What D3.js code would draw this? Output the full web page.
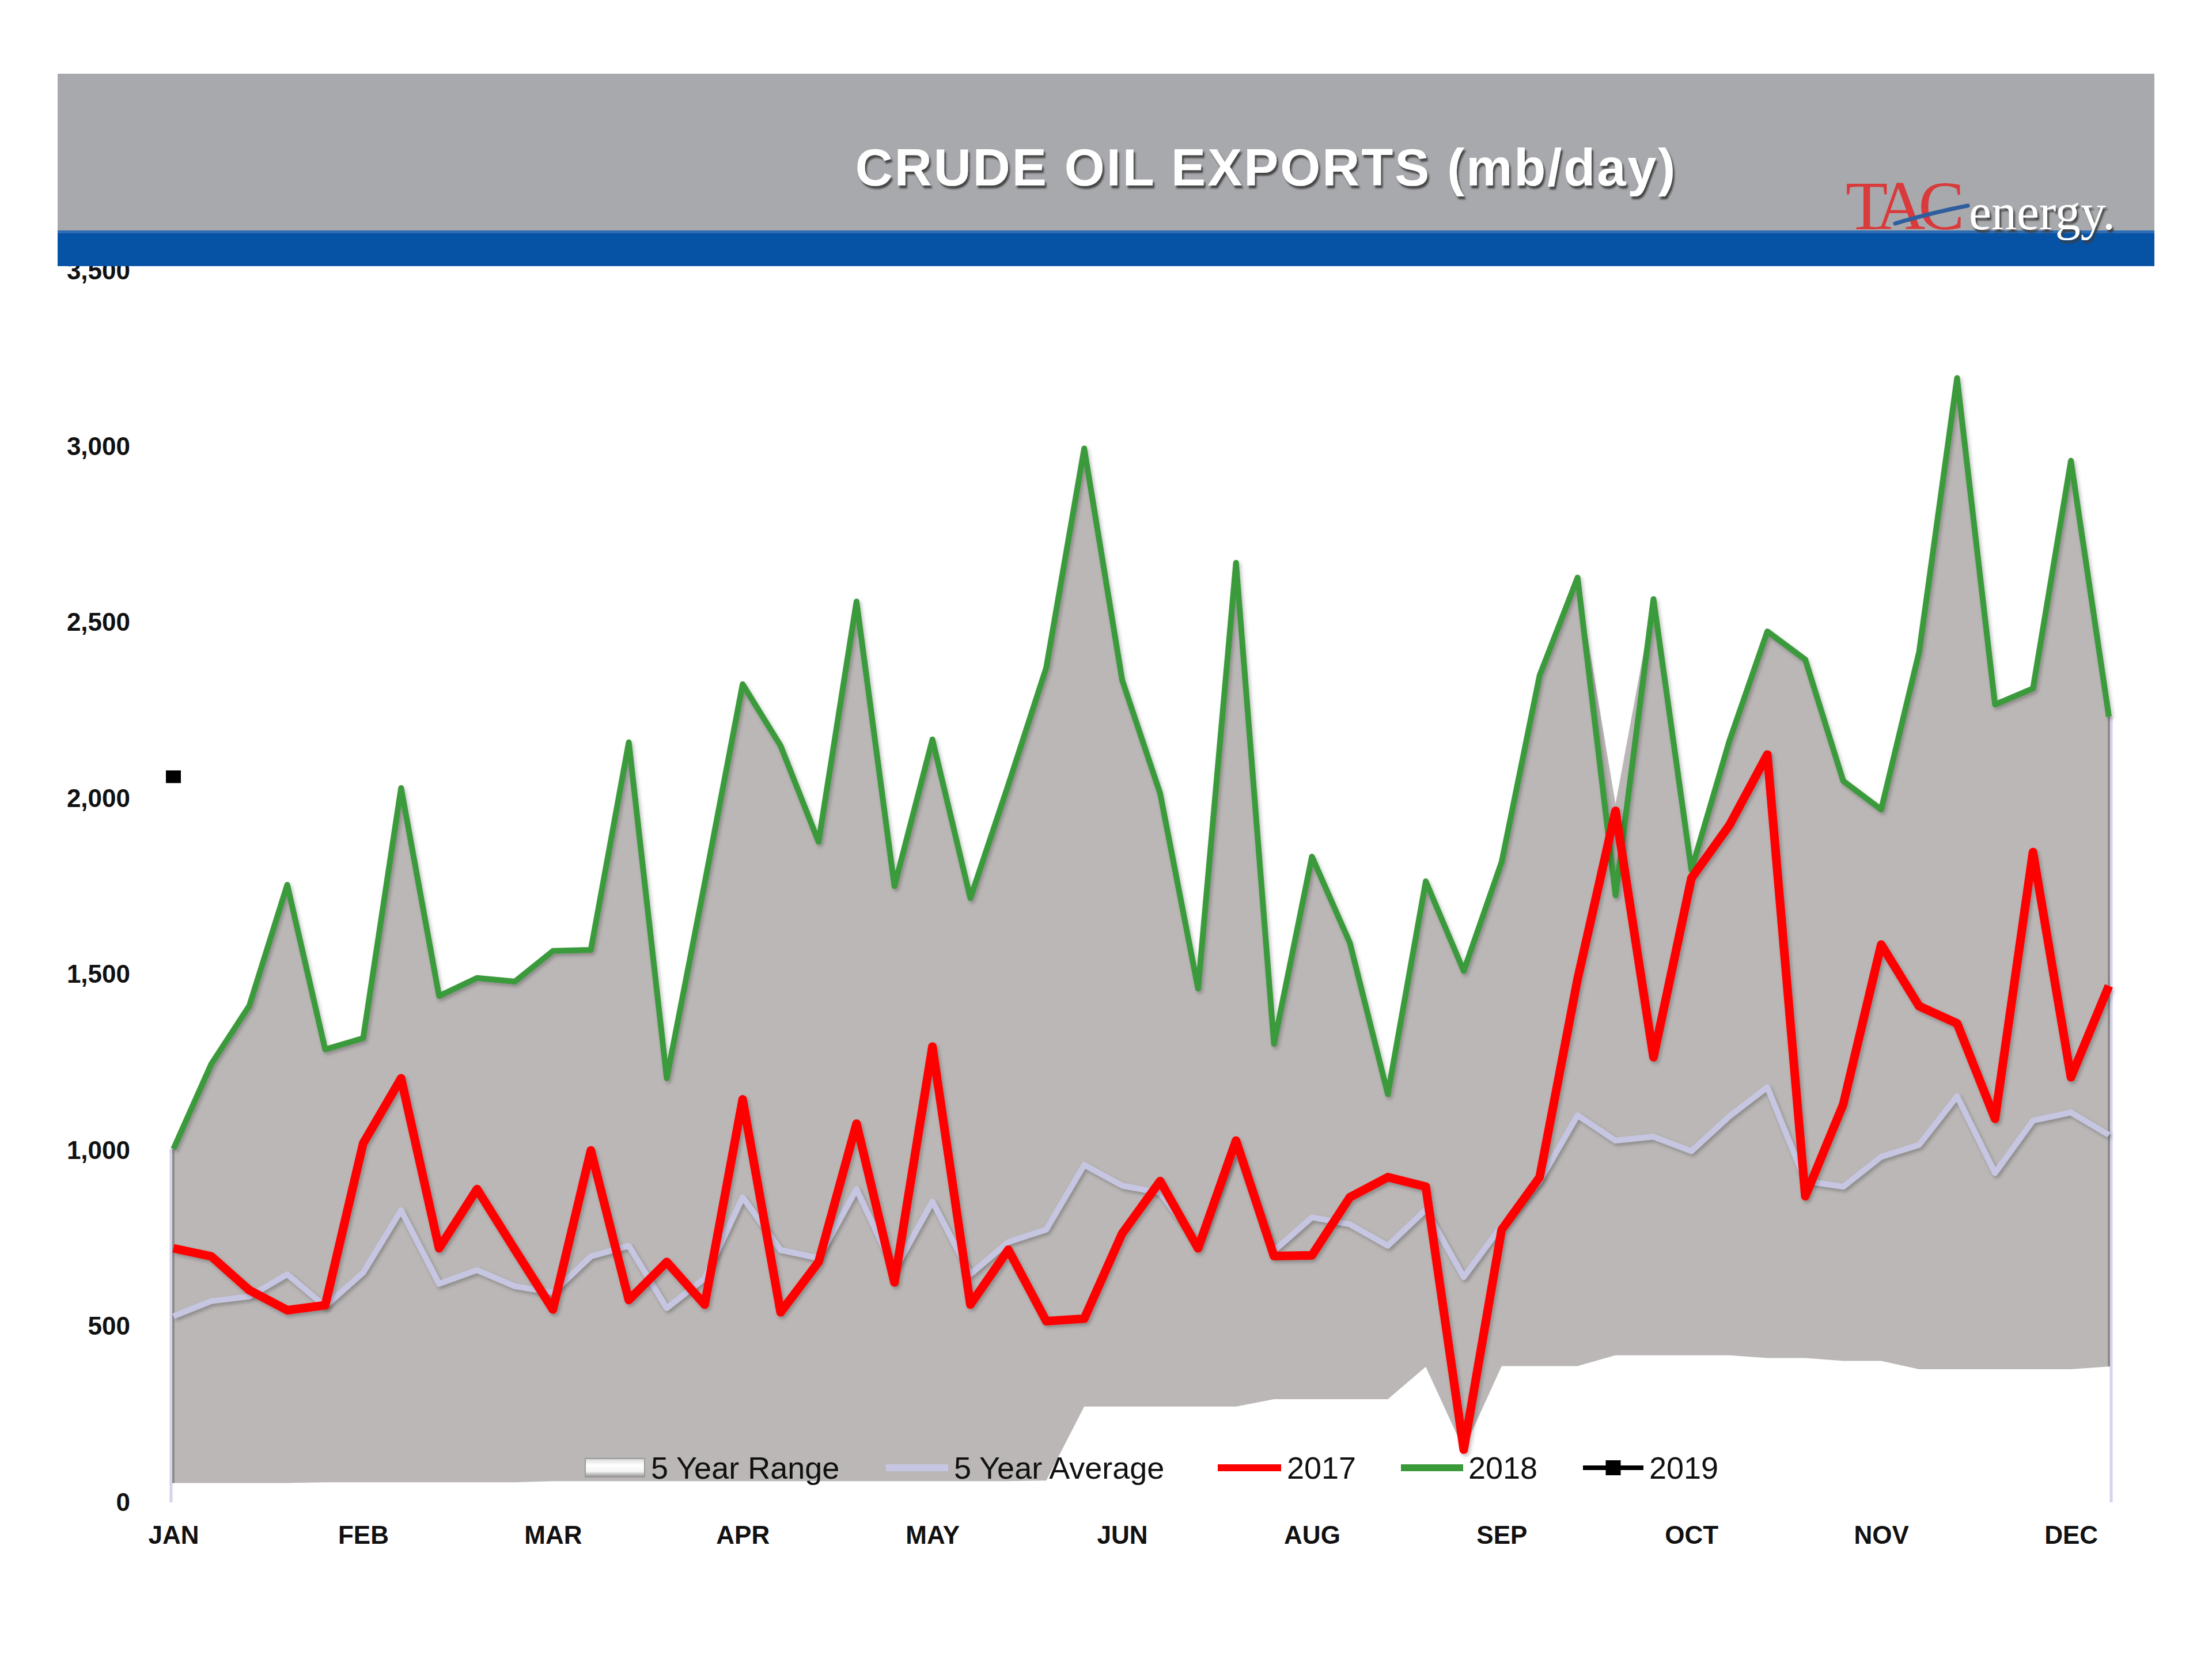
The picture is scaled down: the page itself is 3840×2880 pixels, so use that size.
<!DOCTYPE html>
<html>
<head>
<meta charset="utf-8">
<script src="https://cdn.jsdelivr.net/npm/d3@7"></script>
<style>
  html, body { margin: 0; padding: 0; background: #ffffff; }
  svg { display: block; }
</style>
</head>
<body>
<svg id="chart" width="3840" height="2880"></svg>
<script>
// ---------------- DATA ----------------
const weeks = d3.range(52); // weekly categories, index 0..51
const monthTickWeeks = [0, 5, 10, 15, 20, 25, 30, 35, 40, 45, 50];
const monthTickLabels = ["JAN", "FEB", "MAR", "APR", "MAY", "JUN", "AUG", "SEP", "OCT", "NOV", "DEC"];
const yTicks = [0, 500, 1000, 1500, 2000, 2500, 3000, 3500];

const series2018 = [1004, 1246, 1411, 1755, 1287, 1319, 2030, 1439, 1490, 1480,
                    1567, 1570, 2160, 1205, 1760, 2325, 2150, 1877, 2560, 1751,
                    2168, 1717, 2039, 2372, 2995, 2337, 2015, 1460, 2670, 1303,
                    1835, 1590, 1160, 1765, 1510, 1820, 2350, 2628, 1725, 2567,
                    1797, 2164, 2475, 2395, 2050, 1969, 2417, 3195, 2267, 2313,
                    2960, 2233];

const series2017 = [722, 699, 603, 546, 560, 1020, 1205, 722, 890, 718,
                    548, 1000, 575, 683, 562, 1145, 540, 683, 1076, 625,
                    1295, 562, 718, 515, 522, 764, 913, 722, 1028, 700,
                    702, 867, 924, 897, 150, 775, 924, 1487, 1965, 1265,
                    1774, 1924, 2125, 870, 1131, 1585, 1410, 1361, 1090, 1848,
                    1208, 1468];

const series5yrAvg = [529, 572, 585, 648, 557, 653, 830, 621, 660, 614,
                      596, 699, 729, 552, 637, 867, 717, 694, 890, 660,
                      855, 648, 740, 775, 959, 900, 880, 735, 1010, 715,
                      810, 790, 729, 832, 640, 786, 913, 1100, 1028, 1039,
                      998, 1097, 1180, 913, 897, 982, 1016, 1154, 936, 1085,
                      1108, 1044];

const rangeMin = [55, 55, 55, 55, 57, 57, 57, 57, 57, 57,
                  60, 60, 60, 60, 60, 60, 60, 60, 60, 60,
                  60, 60, 60, 62, 272, 272, 272, 272, 272, 293,
                  293, 293, 293, 385, 150, 387, 387, 387, 418, 418,
                  418, 418, 410, 410, 402, 402, 378, 378, 378, 378,
                  378, 386];

const rangeMax = [1004, 1246, 1411, 1755, 1287, 1319, 2030, 1439, 1490, 1480,
                  1567, 1570, 2160, 1205, 1760, 2325, 2150, 1877, 2560, 1751,
                  2168, 1717, 2039, 2372, 2995, 2337, 2015, 1460, 2670, 1303,
                  1835, 1590, 1160, 1765, 1510, 1820, 2350, 2628, 1985, 2567,
                  1797, 2164, 2475, 2395, 2050, 1969, 2417, 3195, 2267, 2313,
                  2960, 2233];

const series2019 = [{ week: 0, value: 2062 }];

const legendNames = ["5 Year Range", "5 Year Average", "2017", "2018", "2019"];
const titleText = "CRUDE OIL EXPORTS (mb/day)";

// ---------------- LAYOUT ----------------
const svg = d3.select("#chart");
const plot = { left: 301, right: 3661, top: 470, bottom: 2608 };

const x = d3.scaleLinear().domain([0, 51]).range([plot.left, plot.right]);
const y = d3.scaleLinear().domain([0, 3500]).range([plot.bottom, plot.top]);

const colors = {
  range: "#bab7b6",
  avg: "#c6c6e2",
  s2017: "#ff0000",
  s2018: "#3a9a3a",
  s2019: "#000000"
};

const defs = svg.append("defs");
const sh = defs.append("filter").attr("id", "lineShadow").attr("x", "-5%").attr("y", "-5%").attr("width", "110%").attr("height", "110%");
sh.append("feDropShadow").attr("dx", 3).attr("dy", 4).attr("stdDeviation", 3).attr("flood-color", "#000").attr("flood-opacity", 0.25);
const tsh = defs.append("filter").attr("id", "textShadow").attr("x", "-5%").attr("y", "-20%").attr("width", "110%").attr("height", "150%");
tsh.append("feDropShadow").attr("dx", 3).attr("dy", 5).attr("stdDeviation", 1.5).attr("flood-color", "#3a3a3a").attr("flood-opacity", 0.9);
const swg = defs.append("linearGradient").attr("id", "swatchGrad").attr("x1", 0).attr("y1", 0).attr("x2", 0).attr("y2", 1);
swg.append("stop").attr("offset", "0%").attr("stop-color", "#d8d8d8");
swg.append("stop").attr("offset", "35%").attr("stop-color", "#ffffff");
swg.append("stop").attr("offset", "70%").attr("stop-color", "#f4f4f4");
swg.append("stop").attr("offset", "100%").attr("stop-color", "#8c8c8c");

// ---------------- RANGE AREA ----------------
const areaRange = d3.area()
  .x((d, i) => x(i))
  .y0((d, i) => y(rangeMin[i]))
  .y1((d, i) => y(rangeMax[i]));

svg.append("path")
  .datum(weeks)
  .attr("d", areaRange)
  .attr("fill", colors.range);

// edges of the range area (left/right)
[0, 51].forEach(i => {
  svg.append("line")
    .attr("x1", x(i) + (i === 0 ? -4 : 4)).attr("x2", x(i) + (i === 0 ? -4 : 4))
    .attr("y1", y(0)).attr("y2", y(rangeMax[i]))
    .attr("stroke", "#d4d4ea").attr("stroke-width", 5);
  svg.append("line")
    .attr("x1", x(i)).attr("x2", x(i))
    .attr("y1", y(rangeMin[i])).attr("y2", y(rangeMax[i]))
    .attr("stroke", "#8e8b8a").attr("stroke-width", 4);
});

// bottom axis line
svg.append("line")
  .attr("x1", plot.left).attr("x2", plot.right + 4)
  .attr("y1", y(0)).attr("y2", y(0))
  .attr("stroke", "#c4c4c4").attr("stroke-width", 5)
  .attr("filter", "url(#lineShadow)");

// ---------------- LINES ----------------
const lineOf = arr => d3.line().x((d, i) => x(i)).y((d, i) => y(arr[i]));

svg.append("path").datum(weeks).attr("d", lineOf(series5yrAvg))
  .attr("fill", "none").attr("stroke", colors.avg).attr("stroke-width", 10)
  .attr("stroke-linejoin", "round").attr("filter", "url(#lineShadow)");

svg.append("path").datum(weeks).attr("d", lineOf(series2018))
  .attr("fill", "none").attr("stroke", colors.s2018).attr("stroke-width", 10)
  .attr("stroke-linejoin", "round").attr("filter", "url(#lineShadow)");

svg.append("path").datum(weeks).attr("d", lineOf(series2017))
  .attr("fill", "none").attr("stroke", colors.s2017).attr("stroke-width", 15)
  .attr("stroke-linejoin", "round").attr("filter", "url(#lineShadow)");

svg.selectAll("rect.p2019").data(series2019).enter().append("rect")
  .attr("class", "p2019")
  .attr("x", d => x(d.week) - 13).attr("y", d => y(d.value) - 11)
  .attr("width", 26).attr("height", 22)
  .attr("fill", colors.s2019);

// ---------------- AXES ----------------
const yAxis = d3.axisLeft(y).tickValues(yTicks).tickFormat(d3.format(",")).tickSize(0).tickPadding(75);
const gy = svg.append("g").attr("transform", `translate(${plot.left},0)`).call(yAxis);
gy.select(".domain").remove();
gy.selectAll("text")
  .attr("font-family", "'Liberation Sans', Arial, sans-serif")
  .attr("font-weight", "bold").attr("font-size", 44).attr("fill", "#111");

const xAxis = d3.axisBottom(x).tickValues(monthTickWeeks)
  .tickFormat((d, i) => monthTickLabels[i]).tickSize(0).tickPadding(41);
const gx = svg.append("g").attr("transform", `translate(0,${plot.bottom})`).call(xAxis);
gx.select(".domain").remove();
gx.selectAll("text")
  .attr("font-family", "'Liberation Sans', Arial, sans-serif")
  .attr("font-weight", "bold").attr("font-size", 44).attr("fill", "#111");

// ---------------- LEGEND ----------------
const legendItems = [
  { name: legendNames[0], sx: 1016, sw: 103, tx: 1130, type: "rect" },
  { name: legendNames[1], sx: 1538, sw: 108, tx: 1656, type: "line", color: colors.avg },
  { name: legendNames[2], sx: 2114, sw: 110, tx: 2234, type: "line", color: colors.s2017 },
  { name: legendNames[3], sx: 2432, sw: 108, tx: 2549, type: "line", color: colors.s2018 },
  { name: legendNames[4], sx: 2748, sw: 105, tx: 2863, type: "marker", color: colors.s2019 }
];
const legY = 2548;
const lg = svg.append("g");
legendItems.forEach(it => {
  if (it.type === "rect") {
    lg.append("rect").attr("x", it.sx).attr("y", legY - 16).attr("width", it.sw).attr("height", 32)
      .attr("fill", "url(#swatchGrad)").attr("stroke", "#9a9a9a").attr("stroke-width", 2);
  } else {
    lg.append("line").attr("x1", it.sx).attr("x2", it.sx + it.sw).attr("y1", legY).attr("y2", legY)
      .attr("stroke", it.color).attr("stroke-width", it.type === "marker" ? 8 : 12);
    if (it.type === "marker") {
      lg.append("rect").attr("x", it.sx + it.sw / 2 - 13).attr("y", legY - 13)
        .attr("width", 26).attr("height", 26).attr("fill", it.color);
    }
  }
  lg.append("text").attr("x", it.tx).attr("y", legY + 19)
    .attr("font-family", "'Liberation Sans', Arial, sans-serif")
    .attr("font-size", 54).attr("fill", "#111").text(it.name);
});

// ---------------- HEADER ----------------
const hdr = svg.append("g");
hdr.append("rect").attr("x", 100).attr("y", 128).attr("width", 3640).attr("height", 274).attr("fill", "#a8a9ac");
hdr.append("rect").attr("x", 100).attr("y", 400).attr("width", 3640).attr("height", 62).attr("fill", "#0653a5");
hdr.append("rect").attr("x", 100).attr("y", 400).attr("width", 3640).attr("height", 5).attr("fill", "#4a7fbf").attr("opacity", 0.6);

hdr.append("text").attr("x", 2198).attr("y", 322).attr("text-anchor", "middle")
  .attr("font-family", "'Liberation Sans', Arial, sans-serif").attr("font-weight", "bold")
  .attr("font-size", 90).attr("letter-spacing", 3).attr("fill", "#ffffff")
  .attr("filter", "url(#textShadow)").text(titleText);

// logo
hdr.append("text").attr("x", 3204).attr("y", 398)
  .attr("font-family", "'Liberation Serif', 'Times New Roman', serif")
  .attr("font-size", 120).attr("letter-spacing", -12).attr("fill", "#d93a3c").text("TAC");
hdr.append("path").attr("d", "M3290,388 Q3350,370 3416,357")
  .attr("fill", "none").attr("stroke", "#2f5d9e").attr("stroke-width", 7).attr("stroke-linecap", "round");
hdr.append("text").attr("x", 3418).attr("y", 398)
  .attr("font-family", "'Liberation Serif', 'Times New Roman', serif")
  .attr("font-size", 88).attr("fill", "#ffffff")
  .attr("filter", "url(#textShadow)").text("energy.");
</script>
</body>
</html>
